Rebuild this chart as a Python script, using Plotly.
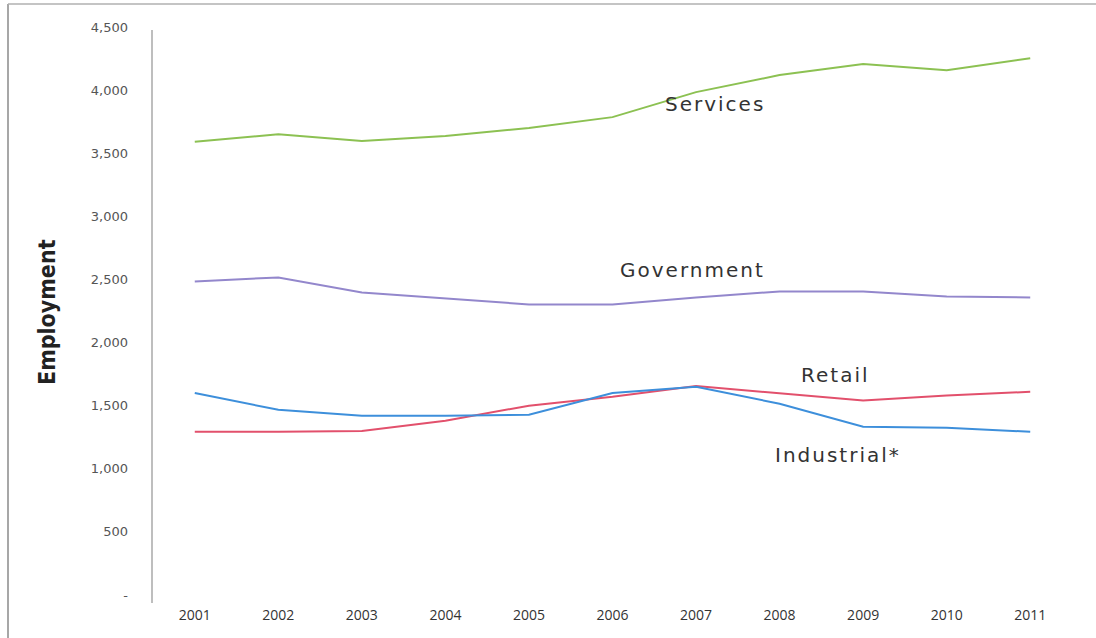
import plotly.graph_objects as go

years = ["2001", "2002", "2003", "2004", "2005", "2006", "2007", "2008", "2009", "2010", "2011"]
services = [3590, 3650, 3596, 3636, 3700, 3786, 3984, 4119, 4206, 4158, 4253]
government = [2484, 2516, 2397, 2350, 2302, 2302, 2357, 2405, 2405, 2365, 2357]
retail = [1293, 1293, 1300, 1380, 1500, 1570, 1655, 1600, 1540, 1580, 1610]
industrial = [1600, 1467, 1420, 1420, 1428, 1600, 1650, 1515, 1333, 1325, 1293]

y_tickvals = [0, 500, 1000, 1500, 2000, 2500, 3000, 3500, 4000, 4500]
y_ticktext = ["-", "500", "1,000", "1,500", "2,000", "2,500", "3,000", "3,500", "4,000", "4,500"]

series = [
    ("Services", services, "#8cc152"),
    ("Government", government, "#9387cc"),
    ("Retail", retail, "#e2506c"),
    ("Industrial*", industrial, "#3d8fdb"),
]

fig = go.Figure()
for name, vals, color in series:
    fig.add_trace(go.Scatter(x=years, y=vals, mode="lines", name=name,
                             line=dict(color=color, width=2)))

W, H = 1096, 638
L, R, T, B = 153, 24, 27, 43
pw, ph = W - L - R, H - T - B

def px(x):
    return (x - L) / pw

def py(y):
    return (H - B - y) / ph

label_font = dict(family="DejaVu Sans, sans-serif", size=20, color="#333333")
labels = [
    ("Services", 715, 104),
    ("Government", 692, 270),
    ("Retail", 835, 375),
    ("Industrial*", 838, 455),
]
annotations = []
for text, x, y in labels:
    annotations.append(dict(text='<span style="letter-spacing:2px">' + text + '</span>',
                            x=px(x), y=py(y), xref="paper", yref="paper",
                            showarrow=False, xanchor="center", yanchor="middle",
                            font=label_font))
annotations.append(dict(text="<b>Employment</b>", x=px(47), y=py(312), xref="paper", yref="paper",
                        showarrow=False, textangle=-90, xanchor="center", yanchor="middle",
                        font=dict(family="Liberation Sans Narrow, DejaVu Sans Condensed, Roboto, sans-serif",
                                  size=23, color="#222222")))

shapes = [
    dict(type="line", xref="paper", yref="paper", x0=px(8), x1=px(8), y0=py(4), y1=py(645),
         line=dict(color="#8a8a8a", width=1.5)),
    dict(type="line", xref="paper", yref="paper", x0=px(8), x1=px(1096), y0=py(4), y1=py(4),
         line=dict(color="#b0b0b0", width=1.5)),
    dict(type="line", xref="paper", yref="paper", x0=px(152), x1=px(152), y0=py(30), y1=py(603),
         line=dict(color="#a8a8a8", width=1.5)),
]

fig.update_layout(
    width=W, height=H,
    margin=dict(l=L, r=R, t=T, b=B),
    paper_bgcolor="white", plot_bgcolor="white",
    showlegend=False,
    annotations=annotations,
    shapes=shapes,
    xaxis=dict(type="category", range=[-0.5, 10.5], showgrid=False, zeroline=False,
               showline=False, ticks="",
               tickfont=dict(family="Open Sans, Liberation Sans, sans-serif", size=14, color="#333333"),
               ticklabelstandoff=10),
    yaxis=dict(range=[0, 4500], tickvals=y_tickvals, ticktext=y_ticktext, showgrid=False,
               zeroline=False, showline=False, ticks="",
               tickfont=dict(family="DejaVu Sans, sans-serif", size=13, color="#555555"),
               ticklabelstandoff=24),
)

fig.write_html("out.html")
